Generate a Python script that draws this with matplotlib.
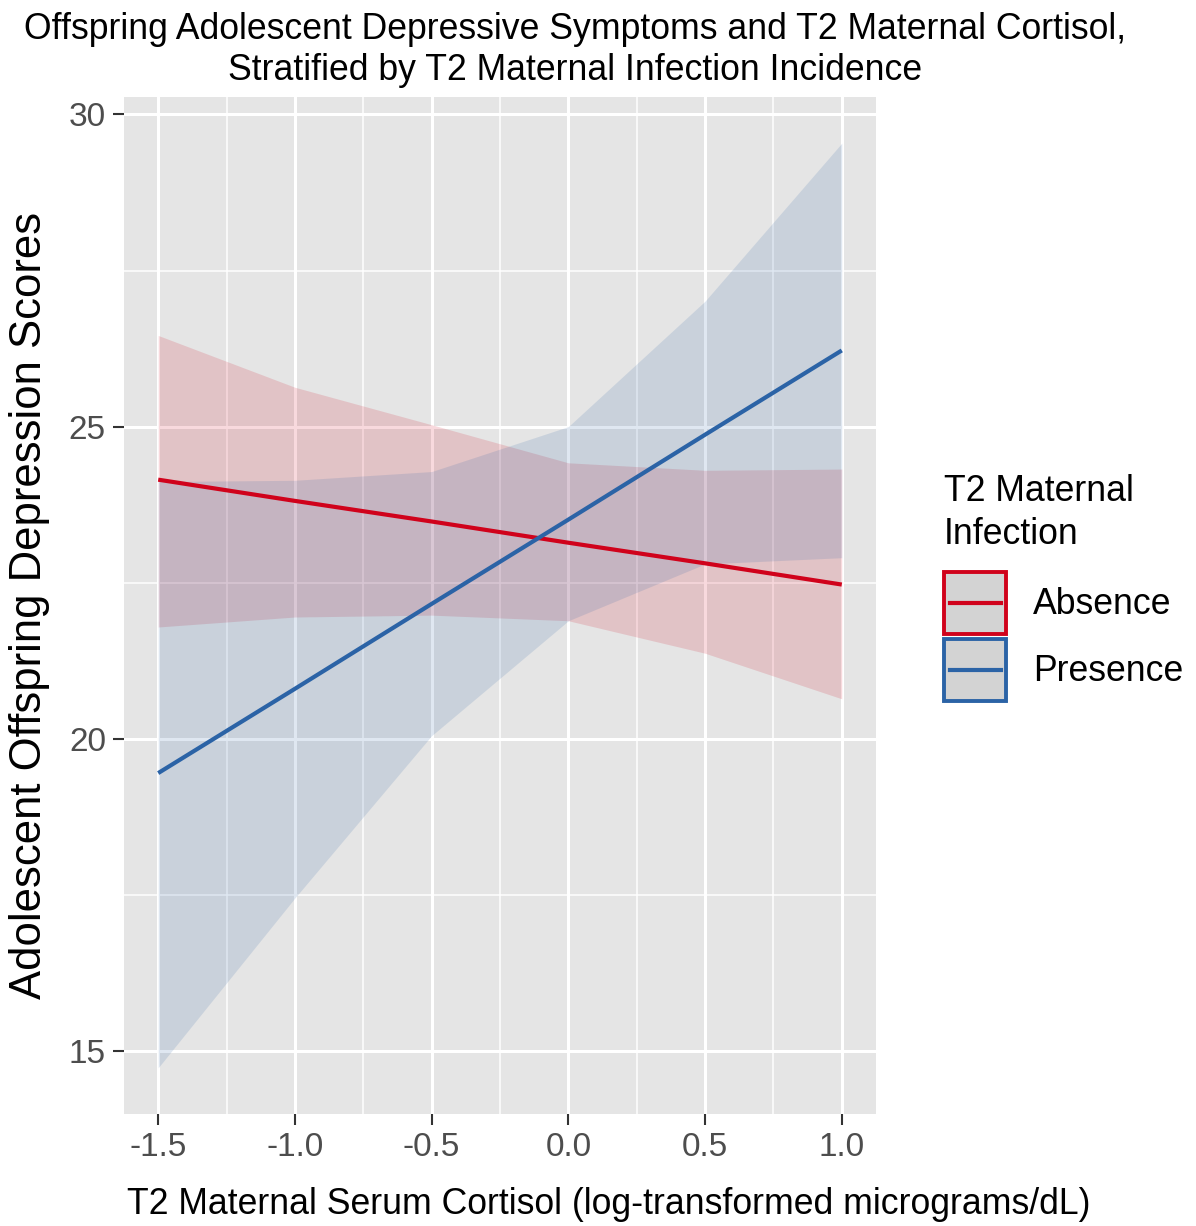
import numpy as np
import matplotlib
matplotlib.use("Agg")
import matplotlib.pyplot as plt
from matplotlib.patches import Patch, Rectangle
from matplotlib.lines import Line2D
from matplotlib.legend_handler import HandlerBase

plt.rcParams['font.family'] = ['Liberation Sans', 'DejaVu Sans']

# cortisol values where the model predictions were evaluated
cortisol = [-1.5, -1.0, -0.5, 0.0, 0.5, 1.0]

# Absence of T2 maternal infection
absence_fit = [24.15, 23.81, 23.48, 23.14, 22.81, 22.47]
absence_lo = [21.79, 21.95, 21.98, 21.89, 21.37, 20.64]
absence_hi = [26.46, 25.63, 25.03, 24.42, 24.30, 24.32]

# Presence of T2 maternal infection
presence_fit = [19.45, 20.80, 22.16, 23.51, 24.87, 26.22]
presence_lo = [14.73, 17.45, 20.05, 21.89, 22.80, 22.90]
presence_hi = [24.12, 24.14, 24.28, 25.00, 27.01, 29.54]

groups = ['Absence', 'Presence']
colors = {'Absence': '#d0021b', 'Presence': '#2b63a6'}

xticks = [-1.5, -1.0, -0.5, 0.0, 0.5, 1.0]
yticks = [15, 20, 25, 30]


class KeyHandler(HandlerBase):
    # ggplot-like key: grey box with coloured border and a line through the middle
    def create_artists(self, legend, orig, xdescent, ydescent, width, height,
                       fontsize, trans):
        c = orig.get_edgecolor()
        box = Rectangle((-xdescent, -ydescent), width, height, facecolor='#d3d3d3',
                        edgecolor=c, lw=2.8, transform=trans)
        ymid = -ydescent + height / 2
        line = Line2D([-xdescent + 4, -xdescent + width - 4], [ymid, ymid],
                      color=c, lw=3, transform=trans)
        return [box, line]


W, H = 1196, 1226
fig = plt.figure(figsize=(W / 100, H / 100), dpi=100)
ax = fig.add_axes([0.1037, 0.0914, 0.6287, 0.8295])
ax.set_facecolor('#e5e5e5')

series = {
    'Absence': (absence_fit, absence_lo, absence_hi),
    'Presence': (presence_fit, presence_lo, presence_hi),
}
for g in groups:
    fit, lo, hi = series[g]
    ax.fill_between(cortisol, lo, hi, color=colors[g], alpha=0.15, lw=0, zorder=2)
for g in groups:
    fit, lo, hi = series[g]
    ax.plot(cortisol, fit, color=colors[g], lw=3, zorder=3, solid_capstyle='butt')

ax.set_xlim(-1.625, 1.125)
ax.set_ylim(13.99, 30.28)
ax.set_xticks(xticks)
ax.set_xticklabels(['-1.5', '-1.0', '-0.5', '0.0', '0.5', '1.0'])
ax.set_yticks(yticks)
ax.set_xticks([-1.25, -0.75, -0.25, 0.25, 0.75], minor=True)
ax.set_yticks([17.5, 22.5, 27.5], minor=True)
ax.grid(which='major', color='white', lw=2.2, zorder=1)
ax.grid(which='minor', color='white', lw=1.1, zorder=1)
ax.set_axisbelow(True)
for s in ax.spines.values():
    s.set_visible(False)
ax.tick_params(which='major', length=8, width=1.5, color='#333333',
               labelsize=24, labelcolor='#4d4d4d', pad=5)
ax.tick_params(which='minor', length=0)

# axis titles
fig.text(609 / W, 1 - 1205 / H,
         'T2 Maternal Serum Cortisol (log-transformed micrograms/dL)',
         ha='center', va='center', fontsize=25.7)
fig.text(30 / W, 1 - 605 / H, 'Adolescent Offspring Depression Scores',
         ha='center', va='center', rotation=90, fontsize=31.4)

fig.text(575 / W, 1 - 12 / H,
         'Offspring Adolescent Depressive Symptoms and T2 Maternal Cortisol,\n'
         'Stratified by T2 Maternal Infection Incidence',
         ha='center', va='top', fontsize=25.7, linespacing=1.22)

handles = [Patch(edgecolor=colors[g]) for g in groups]
leg = fig.legend(handles, groups, loc='upper left',
                 bbox_to_anchor=(944 / W, 1 - 474 / H),
                 title='T2 Maternal\nInfection', title_fontsize=25.7, fontsize=25.7,
                 frameon=False, handlelength=1.74, handleheight=2.3,
                 labelspacing=0.15, handletextpad=0.75, borderpad=0,
                 borderaxespad=0,
                 handler_map={Patch: KeyHandler()})
leg._legend_box.align = 'left'
leg._legend_box.sep = 14.5
leg.get_title().set_linespacing(1.28)

fig.savefig('out.png', dpi=100)
